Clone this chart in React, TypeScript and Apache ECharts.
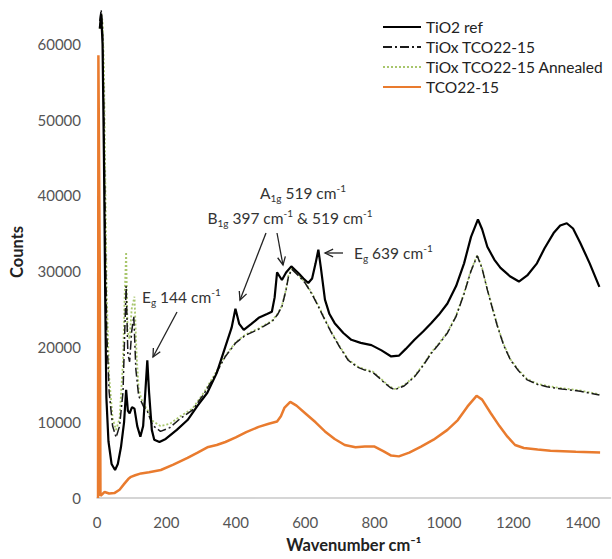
import React, { useEffect, useRef } from "react";
import * as echarts from "echarts";

// ---- Data ----
const refWn = [8, 12, 16, 20, 24, 27, 33, 42, 52, 60, 69, 78, 84, 89, 94, 101, 108, 116, 125, 133, 140, 145, 150, 158, 165, 180, 198, 230, 261, 290, 318, 345, 370, 388, 399, 410, 423, 445, 466, 490, 504, 512, 519, 526, 533, 545, 560, 581, 595, 609, 620, 630, 638, 645, 657, 670, 685, 710, 733, 760, 791, 820, 848, 870, 890, 915, 940, 963, 985, 1010, 1035, 1058, 1078, 1098, 1110, 1125, 1145, 1163, 1190, 1216, 1240, 1268, 1290, 1316, 1335, 1354, 1372, 1393, 1420, 1448];
const refCounts = [62000, 64000, 60000, 45000, 25000, 13300, 7500, 4500, 3700, 4500, 6700, 10000, 14300, 11500, 11200, 12000, 11800, 9500, 8100, 9500, 14500, 18200, 14000, 9000, 7700, 7400, 7800, 9000, 10300, 12200, 13900, 16500, 20000, 22500, 25000, 23000, 22200, 23000, 23800, 24300, 24600, 26500, 29800, 29300, 28800, 29800, 30600, 29700, 29000, 28400, 29000, 31000, 32800, 30500, 26200, 24300, 23100, 21800, 20900, 20500, 20200, 19500, 18700, 18800, 19700, 20900, 22000, 23100, 24200, 25700, 28000, 31000, 34500, 36800, 35500, 33200, 31500, 30400, 29300, 28600, 29400, 31000, 33000, 35000, 36000, 36300, 35600, 33700, 31000, 27900];

const tioxWn = [8, 12, 16, 20, 24, 28, 35, 45, 55, 65, 75, 80, 84, 89, 94, 100, 106, 112, 120, 127, 135, 145, 160, 183, 210, 240, 275, 309, 340, 370, 400, 428, 466, 504, 520, 533, 545, 552, 562, 580, 600, 620, 638, 656, 676, 700, 724, 750, 772, 795, 810, 829, 845, 858, 885, 915, 940, 963, 985, 1010, 1035, 1058, 1078, 1096, 1110, 1125, 1140, 1154, 1172, 1192, 1215, 1240, 1270, 1297, 1340, 1393, 1448];
const tioxCounts = [63000, 64500, 62000, 50000, 35000, 22000, 14000, 9500, 8000, 9500, 14000, 22000, 28000, 19000, 18000, 22000, 24000, 17000, 13500, 12800, 12000, 11500, 9600, 8800, 9300, 10500, 11600, 13800, 16200, 18700, 20500, 21500, 22300, 23300, 24200, 25300, 27500, 29300, 30200, 29400, 28400, 26900, 25300, 23600, 21800, 19900, 18200, 17300, 16900, 16600, 16000, 15200, 14600, 14300, 14800, 16000, 17500, 19100, 20300, 21800, 24000, 27000, 30000, 32000, 30300, 27500, 25000, 22700, 20200, 18200, 16800, 15600, 15000, 14700, 14400, 14100, 13600];

const annWn = [8, 12, 16, 20, 24, 28, 35, 45, 55, 65, 75, 80, 84, 88, 94, 100, 108, 114, 120, 127, 135, 145, 160, 183, 210, 240, 275, 309, 340, 370, 400, 428, 466, 504, 520, 533, 545, 552, 562, 580, 600, 620, 638, 656, 676, 700, 724, 750, 772, 795, 810, 829, 845, 858, 885, 915, 940, 963, 985, 1010, 1035, 1058, 1078, 1096, 1110, 1125, 1140, 1154, 1172, 1192, 1215, 1240, 1270, 1297, 1340, 1393, 1448];
const annCounts = [62000, 64000, 63000, 57000, 42000, 27000, 16000, 10500, 9000, 10500, 18000, 27000, 32500, 22000, 21000, 25000, 26600, 19000, 14500, 13200, 12300, 11700, 10200, 9500, 9800, 10800, 11800, 14000, 16400, 18800, 20600, 21600, 22400, 23400, 24300, 25400, 27600, 29400, 30300, 29500, 28500, 27000, 25400, 23700, 21900, 20000, 18300, 17400, 17000, 16700, 16100, 15300, 14700, 14400, 14900, 16100, 17600, 19200, 20400, 21900, 24100, 27100, 30100, 32100, 30400, 27600, 25100, 22800, 20300, 18300, 16900, 15700, 15100, 14800, 14500, 14200, 13700];

const tcoWn = [3, 4, 6, 8, 10, 15, 22, 35, 50, 65, 79, 90, 98, 110, 127, 150, 184, 220, 261, 290, 318, 345, 370, 400, 430, 466, 495, 519, 530, 540, 557, 575, 600, 630, 657, 685, 714, 745, 772, 800, 825, 848, 870, 900, 934, 970, 1010, 1040, 1068, 1094, 1110, 1135, 1160, 1183, 1205, 1230, 1270, 1307, 1380, 1450];
const tcoCounts = [0, 58500, 58500, 30000, 300, 500, 800, 600, 650, 1100, 1900, 2500, 2800, 3000, 3250, 3400, 3700, 4400, 5300, 6000, 6700, 7000, 7400, 8000, 8700, 9400, 9800, 10100, 10800, 11900, 12700, 12200, 11200, 10000, 8800, 7800, 7000, 6700, 6800, 6800, 6200, 5600, 5500, 6000, 6800, 7700, 9000, 10300, 12100, 13500, 13000, 11200, 9500, 8100, 7000, 6600, 6400, 6250, 6100, 6000];

const seriesNames = ["TiO2 ref", "TiOx TCO22-15", "TiOx TCO22-15 Annealed", "TCO22-15"];
const xTicks = { min: 0, max: 1480, interval: 200 };
const yTicks = { min: 0, max: 65000, interval: 10000 };

const pairs = (xs: number[], ys: number[]) => xs.map((x, i) => [x, ys[i]]);

const FONT = "Lato, 'Noto Sans', sans-serif";
const TXT = "#333333";

function arrow(x1: number, y1: number, x2: number, y2: number) {
  const ang = Math.atan2(y2 - y1, x2 - x1);
  const L = 9;
  const a = 0.45;
  const p1 = [x2 - L * Math.cos(ang - a), y2 - L * Math.sin(ang - a)];
  const p2 = [x2 - L * Math.cos(ang + a), y2 - L * Math.sin(ang + a)];
  return [
    { type: "line", shape: { x1, y1, x2, y2 }, style: { stroke: "#222", lineWidth: 1.3 } },
    { type: "polyline", shape: { points: [p1, [x2, y2], p2] }, style: { stroke: "#222", lineWidth: 1.3, fill: null } },
  ];
}

const rich = {
  n: { fontSize: 15.5, fontFamily: FONT, color: TXT, lineHeight: 20, verticalAlign: "middle" },
  s: { fontSize: 10, fontFamily: FONT, color: TXT, lineHeight: 20, verticalAlign: "bottom" },
  p: { fontSize: 10, fontFamily: FONT, color: TXT, lineHeight: 20, verticalAlign: "top" },
};

function label(text: string, x: number, y: number, align: string) {
  return {
    type: "text",
    x,
    y,
    style: { text, rich, align, verticalAlign: "middle", fill: TXT, font: `15.5px ${FONT}` },
  };
}

const plainNum = (v: number) => String(v);

export default function App() {
  const ref = useRef<HTMLDivElement>(null);
  useEffect(() => {
    if (!ref.current) return;
    const chart = echarts.init(ref.current, undefined, { renderer: "svg" });
    chart.setOption({
      animation: false,
      backgroundColor: "#ffffff",
      grid: { left: 94, right: 1.5, top: 6, bottom: 61 },
      legend: {
        data: seriesNames,
        orient: "vertical",
        left: 377,
        top: 14,
        itemWidth: 38,
        itemHeight: 14,
        itemGap: 4,
        itemStyle: { opacity: 0 },
        textStyle: { fontSize: 15.5, fontFamily: FONT, color: "#222" },
      },
      xAxis: {
        type: "value",
        min: xTicks.min,
        max: xTicks.max,
        interval: xTicks.interval,
        name: "Wavenumber cm⁻¹",
        nameLocation: "middle",
        nameGap: 38,
        nameTextStyle: { fontSize: 16.5, fontWeight: "bold", fontFamily: FONT, color: "#222" },
        axisLine: { show: true, lineStyle: { color: "#c8c8c8", width: 1.5 } },
        axisTick: { show: false },
        splitLine: { show: false },
        axisLabel: { fontSize: 15, fontFamily: FONT, color: "#555", margin: 16, showMaxLabel: false, formatter: plainNum },
      },
      yAxis: {
        type: "value",
        min: yTicks.min,
        max: yTicks.max,
        interval: yTicks.interval,
        name: "Counts",
        nameLocation: "middle",
        nameGap: 72,
        nameRotate: 90,
        nameTextStyle: { fontSize: 16.5, fontWeight: "bold", fontFamily: FONT, color: "#222" },
        axisLine: { show: false },
        axisTick: { show: false },
        splitLine: { show: false },
        axisLabel: { fontSize: 15, fontFamily: FONT, color: "#555", margin: 16, showMaxLabel: false, formatter: plainNum },
      },
      series: [
        {
          name: seriesNames[3],
          type: "line",
          data: pairs(tcoWn, tcoCounts),
          showSymbol: false,
          symbol: "none",
          lineStyle: { color: "#E97B2E", width: 2.5 },
          itemStyle: { color: "#E97B2E" },
          z: 2,
        },
        {
          name: seriesNames[2],
          type: "line",
          data: pairs(annWn, annCounts),
          showSymbol: false,
          symbol: "none",
          lineStyle: { color: "#A8C66C", width: 1.8, type: [2, 2] },
          itemStyle: { color: "#A8C66C" },
          z: 3,
        },
        {
          name: seriesNames[1],
          type: "line",
          data: pairs(tioxWn, tioxCounts),
          showSymbol: false,
          symbol: "none",
          lineStyle: { color: "#1a1a1a", width: 1.5, type: [9, 3, 2, 3] },
          itemStyle: { color: "#1a1a1a" },
          z: 4,
        },
        {
          name: seriesNames[0],
          type: "line",
          data: pairs(refWn, refCounts),
          showSymbol: false,
          symbol: "none",
          lineStyle: { color: "#000000", width: 2.2 },
          itemStyle: { color: "#000000" },
          z: 5,
        },
      ],
      graphic: [
        label("{n|E}{s|g}{n| 144 cm}{p|-1}", 142, 297, "left"),
        ...arrow(177, 312, 153, 357),
        label("{n|A}{s|1g}{n| 519 cm}{p|-1}", 303, 193, "center"),
        label("{n|B}{s|1g}{n| 397 cm}{p|-1}{n| & 519 cm}{p|-1}", 290, 218, "center"),
        ...arrow(266, 233, 240, 300),
        ...arrow(277, 233, 283, 265),
        ...arrow(343, 253, 325, 253),
        label("{n|E}{s|g}{n| 639 cm}{p|-1}", 354, 253, "left"),
      ],
    });
    return () => chart.dispose();
  }, []);
  return <div ref={ref} style={{ width: 612, height: 559, position: "absolute", left: 0, top: 0 }} />;
}
